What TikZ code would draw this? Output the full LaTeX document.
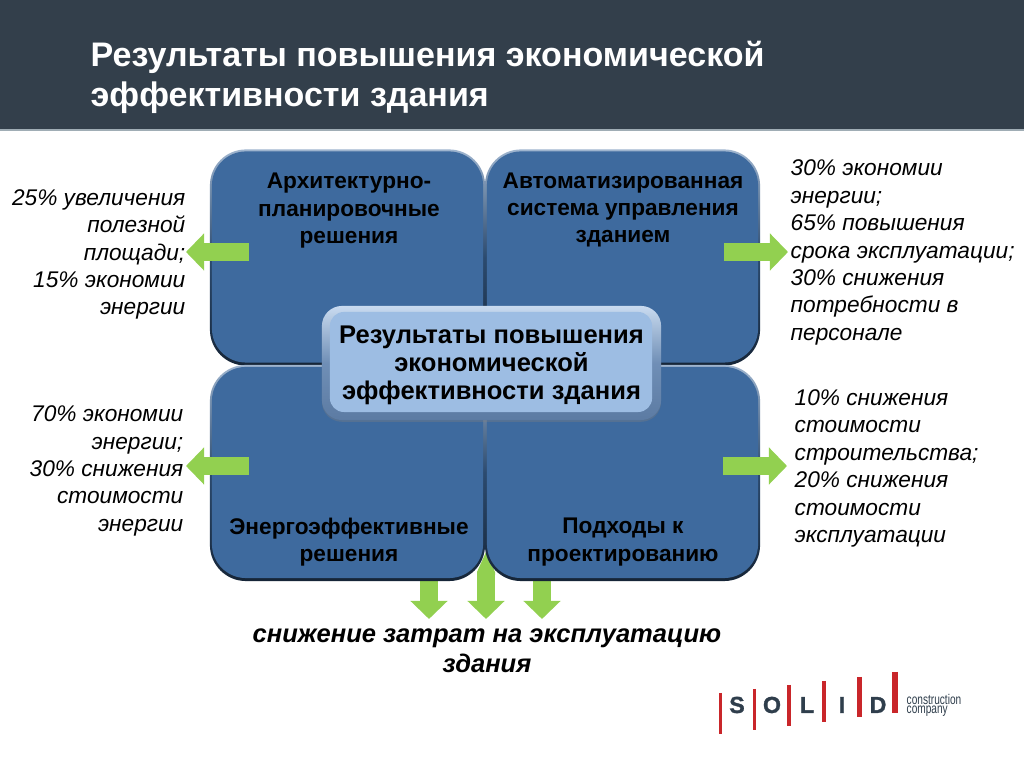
\documentclass[tikz,border=0pt]{standalone}
\usepackage{fontspec}
\setmainfont{Liberation Sans}
\newfontfamily\logofont[FakeStretch=0.72]{Liberation Sans}
\newfontfamily\logoheavy[FakeBold=1.2]{Liberation Sans Bold}
\usetikzlibrary{arrows.meta,shadows}
\definecolor{headbg}{HTML}{333F4B}
\definecolor{headline}{HTML}{A0ADB5}
\definecolor{panelblue}{HTML}{3E6A9E}
\definecolor{corebg}{HTML}{9DBDE3}
\definecolor{coreedge}{HTML}{5C7BA3}
\definecolor{arrowgreen}{HTML}{92D050}
\definecolor{logored}{HTML}{C9262A}
\definecolor{logodark}{HTML}{2F3E4C}
\tikzset{
panelrim/.style={minimum width=2.75cm,minimum height=2.16cm,rounded corners=0.36cm,inner sep=0,top color=panelblue!50!white,bottom color=panelblue!35!black,middle color=panelblue!70!black},
panelface/.style={minimum width=2.71cm,minimum height=2.11cm,rounded corners=0.34cm,inner sep=0,fill=panelblue},
paneltext/.style={align=center,text=black,font=\fontsize{6.44}{7.8}\selectfont\bfseries},
sidetext/.style={font=\fontsize{6.45}{7.8}\selectfont\itshape},
greenarrow/.style={arrowgreen,line width=0.18cm,-{Triangle[length=0.18cm,width=0.36cm]}},
logobar/.style={logored,line cap=butt},
logoletter/.style={text=logodark,font=\fontsize{6.6}{8}\selectfont\logoheavy},
}
\begin{document}
\begin{tikzpicture}[x=0.01cm,y=-0.01cm]
\useasboundingbox (0,0) rectangle (1024,768);
\fill[white] (0,0) rectangle (1024,768);
% header
\fill[headbg] (0,0) rectangle (1024,129);
\fill[headline] (0,129) rectangle (1024,131);
\node (title) [anchor=west,align=left,inner sep=0,text=white,font=\fontsize{9.68}{11.4}\selectfont\bfseries] at (90,77) {Результаты повышения экономической\\эффективности здания};
% arrows under the panels
\coordinate (tailA) at (429,575); \coordinate (tipA) at (429,619);
\coordinate (tailB) at (486,575); \coordinate (tipB) at (486,619);
\coordinate (tailC) at (542,575); \coordinate (tipC) at (542,619);
\draw[greenarrow] (tailA)--(tipA);
\draw[greenarrow] (tailC)--(tipC);
\fill[arrowgreen] (477,575)--(477,572)--(486,552)--(495,572)--(495,575)--cycle;
\draw[greenarrow] (tailB)--(tipB);
% panels
\foreach \name/\x/\y in {arch/347.5/257.5,auto/622.5/257.5,ener/347.5/473,appr/622.5/473}{
\node (\name) [panelrim] at (\x,\y) {};
\node (\name face) [panelface] at (\x,\y-0.5) {};
}
\node (archtext) [paneltext] at (349,211) {Архитектурно-\\планировочные\\решения};
\node (autotext) [paneltext] at (623,210) {Автоматизированная\\система управления\\зданием};
\node (enertext) [paneltext] at (349,542) {Энергоэффективные\\решения};
\node (apprtext) [paneltext] at (623,542) {Подходы к\\проектированию};
% centre box
\node (corerim) [minimum width=3.39cm,minimum height=1.14cm,rounded corners=0.2cm,top color=corebg!55!white,bottom color=coreedge,middle color=coreedge!70!corebg,drop shadow={shadow xshift=0pt,shadow yshift=-0.5pt,opacity=0.35}] at (491.5,363) {};
\node (coreface) [minimum width=3.22cm,minimum height=1cm,rounded corners=0.14cm,fill=corebg] at (491,362) {};
\node (coretext) [align=center,text=black,font=\fontsize{7.27}{7.95}\selectfont\bfseries] at (491.5,365.5) {Результаты повышения\\экономической\\эффективности здания};
% side arrows
\coordinate (tailL) at (249,252); \coordinate (tipL) at (186,252);
\coordinate (tailM) at (249,466); \coordinate (tipM) at (186,466);
\coordinate (tailR) at (724,252); \coordinate (tipR) at (788,252);
\coordinate (tailS) at (723,466); \coordinate (tipS) at (787,466);
\draw[greenarrow] (tailL)--(tipL);
\draw[greenarrow] (tailM)--(tipM);
\draw[greenarrow] (tailR)--(tipR);
\draw[greenarrow] (tailS)--(tipS);
% side texts
\node (effL) [sidetext,anchor=east,align=right,inner sep=0] at (186,254.5) {25\% увеличения\\полезной\\площади;\\15\% экономии\\энергии};
\node (effM) [sidetext,anchor=east,align=right,inner sep=0] at (184,471) {70\% экономии\\энергии;\\30\% снижения\\стоимости\\энергии};
\node (effR) [sidetext,anchor=west,align=left,inner sep=0] at (790,252.5) {30\% экономии\\энергии;\\65\% повышения\\срока эксплуатации;\\30\% снижения\\потребности в\\персонале};
\node (effS) [sidetext,anchor=west,align=left,inner sep=0] at (794,468.5) {10\% снижения\\стоимости\\строительства;\\20\% снижения\\стоимости\\эксплуатации};
\node (effB) [align=center,font=\fontsize{7.26}{8.5}\selectfont\bfseries\itshape] at (487,651) {снижение затрат на эксплуатацию\\здания};
% logo
\draw[logobar,line width=0.03cm] (720.5,693)--(720.5,734);
\draw[logobar,line width=0.035cm] (754.5,689)--(754.5,730);
\draw[logobar,line width=0.04cm] (789,685)--(789,726);
\draw[logobar,line width=0.045cm] (824,681)--(824,722);
\draw[logobar,line width=0.05cm] (859,677)--(859,717);
\draw[logobar,line width=0.055cm] (895,672)--(895,713);
\foreach \name/\x/\letter in {logoS/737/S,logoO/772/O,logoL/807/L,logoI/842/I,logoD/878/D}{
\node (\name) [logoletter] at (\x,705) {\letter};
}
\node (logotext) [anchor=west,align=left,inner sep=0,text=logodark,font=\fontsize{4}{2.7}\selectfont\logofont] at (906,705.5) {construction\\company};
\end{tikzpicture}
\end{document}
